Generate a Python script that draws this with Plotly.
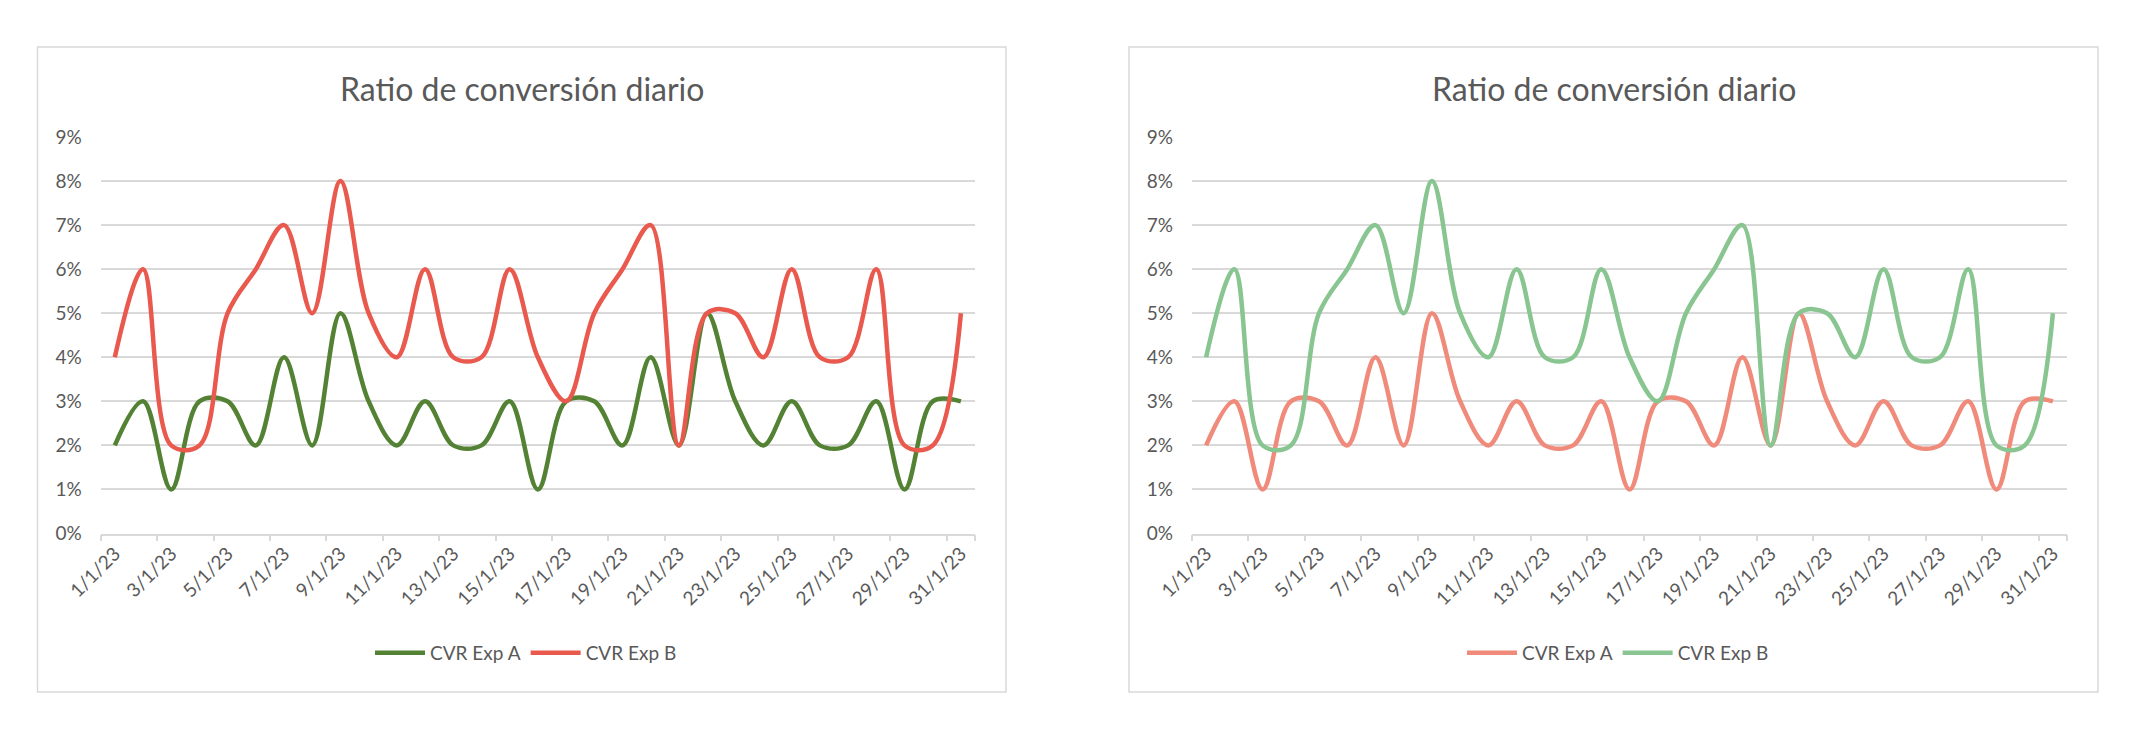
import plotly.graph_objects as go

# ---- data ----
dates = ["1/1/23", "2/1/23", "3/1/23", "4/1/23", "5/1/23", "6/1/23", "7/1/23", "8/1/23",
         "9/1/23", "10/1/23", "11/1/23", "12/1/23", "13/1/23", "14/1/23", "15/1/23", "16/1/23",
         "17/1/23", "18/1/23", "19/1/23", "20/1/23", "21/1/23", "22/1/23", "23/1/23", "24/1/23",
         "25/1/23", "26/1/23", "27/1/23", "28/1/23", "29/1/23", "30/1/23", "31/1/23"]
cvr_a = [0.02, 0.03, 0.01, 0.03, 0.03, 0.02, 0.04, 0.02, 0.05, 0.03, 0.02, 0.03, 0.02, 0.02, 0.03, 0.01,
         0.03, 0.03, 0.02, 0.04, 0.02, 0.05, 0.03, 0.02, 0.03, 0.02, 0.02, 0.03, 0.01, 0.03, 0.03]
cvr_b = [0.04, 0.06, 0.02, 0.02, 0.05, 0.06, 0.07, 0.05, 0.08, 0.05, 0.04, 0.06, 0.04, 0.04, 0.06, 0.04,
         0.03, 0.05, 0.06, 0.07, 0.02, 0.05, 0.05, 0.04, 0.06, 0.04, 0.04, 0.06, 0.02, 0.02, 0.05]
tick_labels = dates[::2]
series_names = ["CVR Exp A", "CVR Exp B"]
title_text = "Ratio de conversión diario"

W, H = 2140, 732
FONT = "Lato"
TXT = "#595959"
GRID = "#d9d9d9"

left_colors = ["#548235", "#E9594E"]
right_colors = ["#F08A7B", "#88C590"]

def px_x(p):
    return p / W

def px_y(p):
    return 1 - p / H

fig = go.Figure()

panels = [
    dict(xa="x", ya="y", xaxis="xaxis", yaxis="yaxis", legend="legend", colors=left_colors,
         dom=(100.7, 975.0), box=(37.5, 1006.0), lg_center=526),
    dict(xa="x2", ya="y2", xaxis="xaxis2", yaxis="yaxis2", legend="legend2", colors=right_colors,
         dom=(1192.0, 2067.0), box=(1129.0, 2098.0), lg_center=1618),
]

y_dom = [px_y(533.5), px_y(137.0)]

for p in panels:
    for name, vals, col in zip(series_names, [cvr_a, cvr_b], p["colors"]):
        fig.add_trace(go.Scatter(
            x=dates, y=vals, name=name, mode="lines",
            line=dict(color=col, width=4.5, shape="spline", smoothing=1.0),
            xaxis=p["xa"], yaxis=p["ya"], legend=p["legend"],
            hoverinfo="skip",
        ))
    fig.layout[p["xaxis"]] = dict(
        domain=[px_x(p["dom"][0]), px_x(p["dom"][1])],
        anchor=p["ya"], type="category", categoryorder="array", categoryarray=dates,
        range=[-0.5, 30.5], tickmode="array", tickvals=tick_labels, ticktext=tick_labels,
        tickson="boundaries", ticks="outside", ticklen=6, tickwidth=1.5, tickcolor=GRID,
        showgrid=False, showline=True, linecolor=GRID, linewidth=1.5, zeroline=False,
        tickangle=-45, tickfont=dict(family=FONT, size=19, color=TXT), fixedrange=True,
        automargin=False,
    )
    fig.layout[p["yaxis"]] = dict(
        domain=y_dom, anchor=p["xa"], range=[0, 0.09], dtick=0.01, tick0=0,
        tickformat=".0%", showgrid=True, gridcolor=GRID, gridwidth=1.5, zeroline=False,
        showline=False, ticks="", ticklabelstandoff=18,
        tickfont=dict(family=FONT, size=19, color=TXT), fixedrange=True,
        automargin=False,
    )
    fig.layout[p["legend"]] = dict(
        orientation="h", x=px_x(p["lg_center"]), xanchor="center", y=px_y(653), yanchor="middle",
        font=dict(family=FONT, size=19, color=TXT), itemwidth=50, bgcolor="rgba(0,0,0,0)",
        traceorder="normal", itemclick=False, itemdoubleclick=False,
    )
    fig.add_shape(type="rect", xref="paper", yref="paper",
                  x0=px_x(p["box"][0]), x1=px_x(p["box"][1]), y0=px_y(692), y1=px_y(47),
                  line=dict(color=GRID, width=1.5), fillcolor="rgba(0,0,0,0)", layer="below")
    fig.add_annotation(text=title_text, xref="paper", yref="paper",
                       x=px_x((p["box"][0] + p["box"][1]) / 2), y=px_y(89),
                       xanchor="center", yanchor="middle", showarrow=False,
                       font=dict(family=FONT, size=32, color=TXT))

fig.update_layout(
    width=W, height=H, margin=dict(l=0, r=0, t=0, b=0, pad=0, autoexpand=False),
    paper_bgcolor="white", plot_bgcolor="white", showlegend=True,
)

fig.write_html("out.html", config={"displayModeBar": False},
               post_script="document.body.style.margin='0';document.body.style.overflow='hidden';")
